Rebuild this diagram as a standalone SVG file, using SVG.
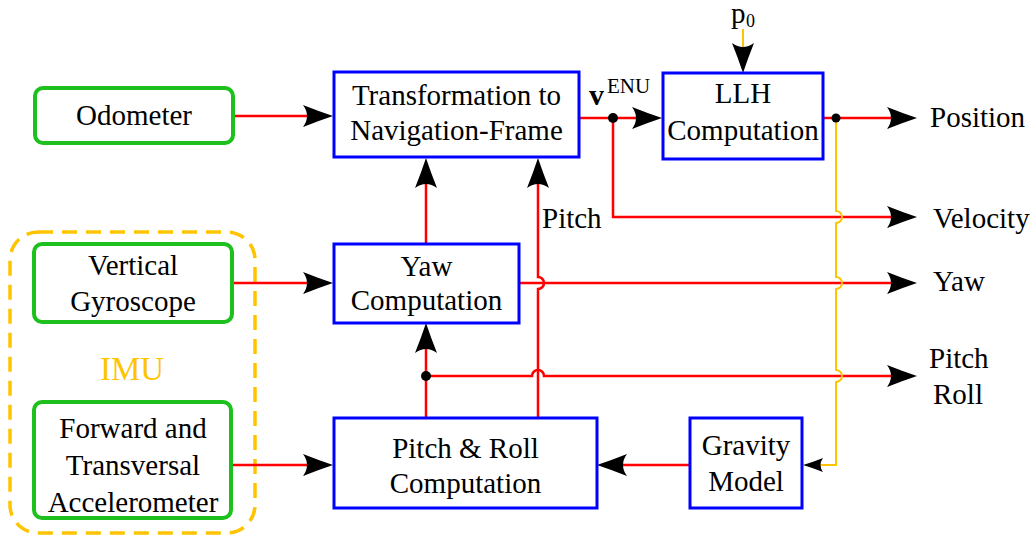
<svg xmlns="http://www.w3.org/2000/svg" width="1033" height="540" viewBox="0 0 1033 540">
  <style>
    text { font-family: "Liberation Serif", "Times New Roman", "DejaVu Serif", serif; font-size: 29px; fill: #000; }
    .c { text-anchor: middle; }
    .blk { fill: #fff; stroke: #0000ff; stroke-width: 3; }
    .sensor { fill: #fff; stroke: #1ec01e; stroke-width: 4; }
    .imu { fill: none; stroke: #ffc400; stroke-width: 3.5; stroke-dasharray: 15 9; }
    .sig { fill: none; stroke: #ff0000; stroke-width: 2.5; }
    .aux { fill: none; stroke: #ffc400; stroke-width: 2; }
    .dot { fill: #000; }
  </style>
  <defs>
    <marker id="ah" markerUnits="userSpaceOnUse" markerWidth="32" markerHeight="24" refX="20" refY="11" orient="auto" overflow="visible">
      <path d="M30,11 Q15,6 0,0 Q8,11 0,22 Q15,16 30,11 Z" fill="#000"/>
    </marker>
    <marker id="ahs" markerUnits="userSpaceOnUse" markerWidth="22" markerHeight="16" refX="14" refY="7" orient="auto" overflow="visible">
      <path d="M20,7 Q10,4 0,0 Q5,7 0,14 Q10,10 20,7 Z" fill="#000"/>
    </marker>
  </defs>

  <!-- sensor group outline -->
  <g id="imu">
    <rect class="imu" x="10" y="232" width="245" height="301" rx="28"/>
    <text class="c" x="132" y="380" style="font-size:33px;fill:#ffc400">IMU</text>
  </g>

  <!-- connectors -->
  <g id="connectors">
    <path class="sig" d="M233,116 H323" marker-end="url(#ah)"/>
    <path class="sig" d="M579,118 H652" marker-end="url(#ah)"/>
    <path class="sig" d="M613,118 V217 H907" marker-end="url(#ah)"/>
    <path class="sig" d="M823,118 H907" marker-end="url(#ah)"/>
    <path class="sig" d="M519,283 H907" marker-end="url(#ah)"/>
    <path class="sig" d="M426,376 H532 A6,6 0 0 1 544,376 H907" marker-end="url(#ah)"/>
    <path class="sig" d="M538,418 V289 A6,6 0 0 0 538,277 V168" marker-end="url(#ah)"/>
    <path class="sig" d="M426,244 V168" marker-end="url(#ah)"/>
    <path class="sig" d="M426,418 V333" marker-end="url(#ah)"/>
    <path class="sig" d="M232,283 H323" marker-end="url(#ah)"/>
    <path class="sig" d="M231,465 H323" marker-end="url(#ah)"/>
    <path class="sig" d="M690,465 H607" marker-end="url(#ah)"/>
    <path class="aux" d="M836,118 V211 A6,6 0 0 1 836,223 V277 A6,6 0 0 1 836,289 V370 A6,6 0 0 1 836,382 V465 H809" marker-end="url(#ahs)"/>
    <path class="aux" d="M743,29 V63" marker-end="url(#ah)"/>
    <circle class="dot" cx="613" cy="118" r="5"/>
    <circle class="dot" cx="836" cy="118" r="4.5"/>
    <circle class="dot" cx="426" cy="376" r="5"/>
  </g>

  <!-- blocks -->
  <g id="odometer">
    <rect class="sensor" x="35" y="88" width="198" height="55" rx="8"/>
    <text class="c" x="134" y="125">Odometer</text>
  </g>
  <g id="gyroscope">
    <rect class="sensor" x="34" y="244" width="198" height="78" rx="8"/>
    <text class="c" x="133" y="275">Vertical</text>
    <text class="c" x="133" y="311">Gyroscope</text>
  </g>
  <g id="accelerometer">
    <rect class="sensor" x="34" y="402" width="197" height="116" rx="8"/>
    <text class="c" x="133" y="438">Forward and</text>
    <text class="c" x="133" y="475">Transversal</text>
    <text class="c" x="133" y="512">Accelerometer</text>
  </g>
  <g id="transformation">
    <rect class="blk" x="334" y="72" width="245" height="85"/>
    <text class="c" x="456.5" y="105">Transformation to</text>
    <text class="c" x="456.5" y="140">Navigation-Frame</text>
  </g>
  <g id="llh">
    <rect class="blk" x="663" y="73" width="160" height="86"/>
    <text class="c" x="743" y="103">LLH</text>
    <text class="c" x="743" y="140">Computation</text>
  </g>
  <g id="yaw">
    <rect class="blk" x="334" y="244" width="185" height="79"/>
    <text class="c" x="426.5" y="276">Yaw</text>
    <text class="c" x="426.5" y="310">Computation</text>
  </g>
  <g id="pitchroll">
    <rect class="blk" x="334" y="418" width="263" height="90"/>
    <text class="c" x="465.5" y="458">Pitch &amp; Roll</text>
    <text class="c" x="465.5" y="493">Computation</text>
  </g>
  <g id="gravity">
    <rect class="blk" x="690" y="418" width="112" height="90"/>
    <text class="c" x="746" y="455">Gravity</text>
    <text class="c" x="746" y="491">Model</text>
  </g>

  <!-- signal labels -->
  <g id="labels">
    <text x="589" y="105" style="font-weight:bold;font-size:30px">v</text>
    <text x="607" y="93" style="font-size:21px">ENU</text>
    <text x="731" y="23">p</text>
    <text x="746" y="27" style="font-size:18px">0</text>
    <text x="542" y="228">Pitch</text>
    <text x="930" y="127">Position</text>
    <text x="933" y="228">Velocity</text>
    <text x="933" y="291">Yaw</text>
    <text x="929" y="368">Pitch</text>
    <text x="933" y="404">Roll</text>
  </g>
</svg>
